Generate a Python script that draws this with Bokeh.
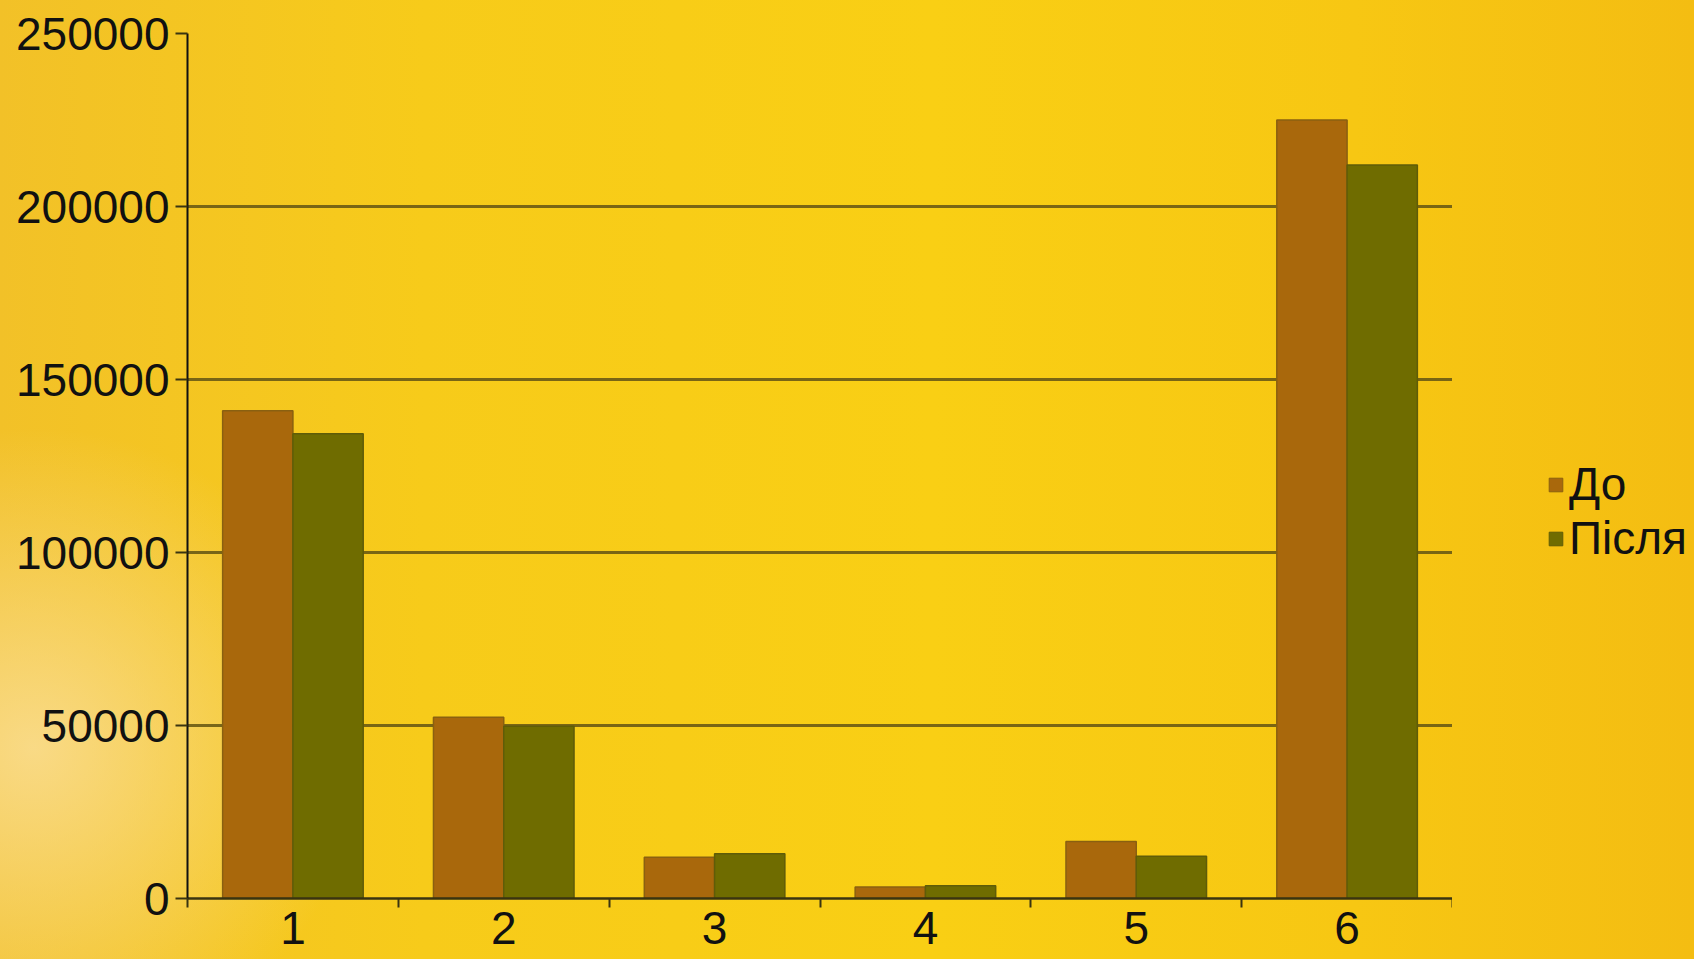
from bokeh.plotting import figure
from bokeh.models import Legend, LegendItem, FixedTicker, Range1d
from bokeh.layouts import row
from bokeh.embed import file_html
from bokeh.resources import INLINE
import numpy as np

categories = ["1", "2", "3", "4", "5", "6"]
series_names = ["До", "Після"]
do_values = [141000, 52400, 11900, 3300, 16500, 225000]
pislia_values = [134300, 49800, 12900, 3700, 12200, 212000]
y_ticks = [0, 50000, 100000, 150000, 200000, 250000]
series_colors = ["#A9680C", "#6F6C00"]
series_lines = ["#8A6010", "#5F5C08"]

FONT = "Liberation Sans"
BG_CSS = ("radial-gradient(ellipse 330px 320px at 2% 78%, rgba(250,222,150,0.85), "
          "rgba(250,222,150,0) 100%), "
          "linear-gradient(90deg, #F2C128 0%, #F7CB1A 25%, #F9CF14 55%, "
          "#F7C713 80%, #F4BD12 100%)")

p = figure(width=1452, height=959, output_backend="svg", toolbar_location=None,
           x_range=Range1d(0, len(categories)), y_range=Range1d(0, 250000),
           min_border_left=187, min_border_top=33, min_border_right=0,
           min_border_bottom=61)
p.background_fill_color = None
p.border_fill_color = None
p.outline_line_color = None

idx = np.arange(len(categories)) + 0.5
w = 1 / 3
r1 = p.vbar(x=idx - w / 2, top=do_values, width=w, bottom=0,
            fill_color=series_colors[0], line_color=series_lines[0], line_width=1.5)
r2 = p.vbar(x=idx + w / 2, top=pislia_values, width=w, bottom=0,
            fill_color=series_colors[1], line_color=series_lines[1], line_width=1.5)

# axes
xa = p.xaxis[0]
xa.ticker = FixedTicker(ticks=list(idx), minor_ticks=list(range(len(categories) + 1)))
xa.major_label_overrides = {float(v): c for v, c in zip(idx, categories)}
xa.major_tick_out = 0
xa.major_tick_in = 0
xa.minor_tick_out = 9
xa.minor_tick_in = 0
xa.minor_tick_line_color = "#3A3410"
xa.minor_tick_line_width = 2
xa.axis_line_color = "#3A3410"
xa.axis_line_width = 2.5
xa.major_label_text_font = FONT
xa.major_label_text_font_size = "46px"
xa.major_label_text_color = "#111111"
xa.major_label_standoff = 4

ya = p.yaxis[0]
ya.ticker = FixedTicker(ticks=y_ticks)
ya.minor_tick_line_color = None
ya.major_tick_out = 12
ya.major_tick_in = 0
ya.major_tick_line_color = "#3A3410"
ya.major_tick_line_width = 2
ya.axis_line_color = "#111111"
ya.axis_line_width = 2
ya.major_label_text_font = FONT
ya.major_label_text_font_size = "46px"
ya.major_label_text_color = "#111111"
ya.major_label_standoff = 6
ya.formatter.use_scientific = False

p.xgrid.grid_line_color = None
p.ygrid.grid_line_color = "#6A5A14"
p.ygrid.grid_line_width = 3
p.ygrid.grid_line_alpha = 0.9

# legend panel (separate figure to the right of the plot frame);
# its renderers carry the same series data but are hidden
lp = figure(width=242, height=959, output_backend="svg", toolbar_location=None,
            x_axis_type=None, y_axis_type=None,
            x_range=Range1d(0, 1), y_range=Range1d(-2, -1),
            min_border=0)
lp.background_fill_color = None
lp.border_fill_color = None
lp.outline_line_color = None
lp.grid.grid_line_color = None
l1 = lp.vbar(x=idx - w / 2, top=do_values, width=w, bottom=0,
             fill_color=series_colors[0], line_color=series_lines[0], line_width=1)
l2 = lp.vbar(x=idx + w / 2, top=pislia_values, width=w, bottom=0,
             fill_color=series_colors[1], line_color=series_lines[1], line_width=1)
l1.visible = False
l2.visible = False

legend = Legend(items=[LegendItem(label=series_names[0], renderers=[l1]),
                       LegendItem(label=series_names[1], renderers=[l2])],
                location=(95, 333), orientation="vertical",
                glyph_width=17, glyph_height=17, label_standoff=5,
                label_width=60, label_height=54,
                label_text_font=FONT, label_text_font_size="46px",
                label_text_color="#111111", spacing=0, padding=0, margin=0,
                background_fill_alpha=0, border_line_color=None)
lp.add_layout(legend, "center")

layout = row(p, lp, styles={"background": BG_CSS})
open("out.html", "w").write(file_html(layout, INLINE))
